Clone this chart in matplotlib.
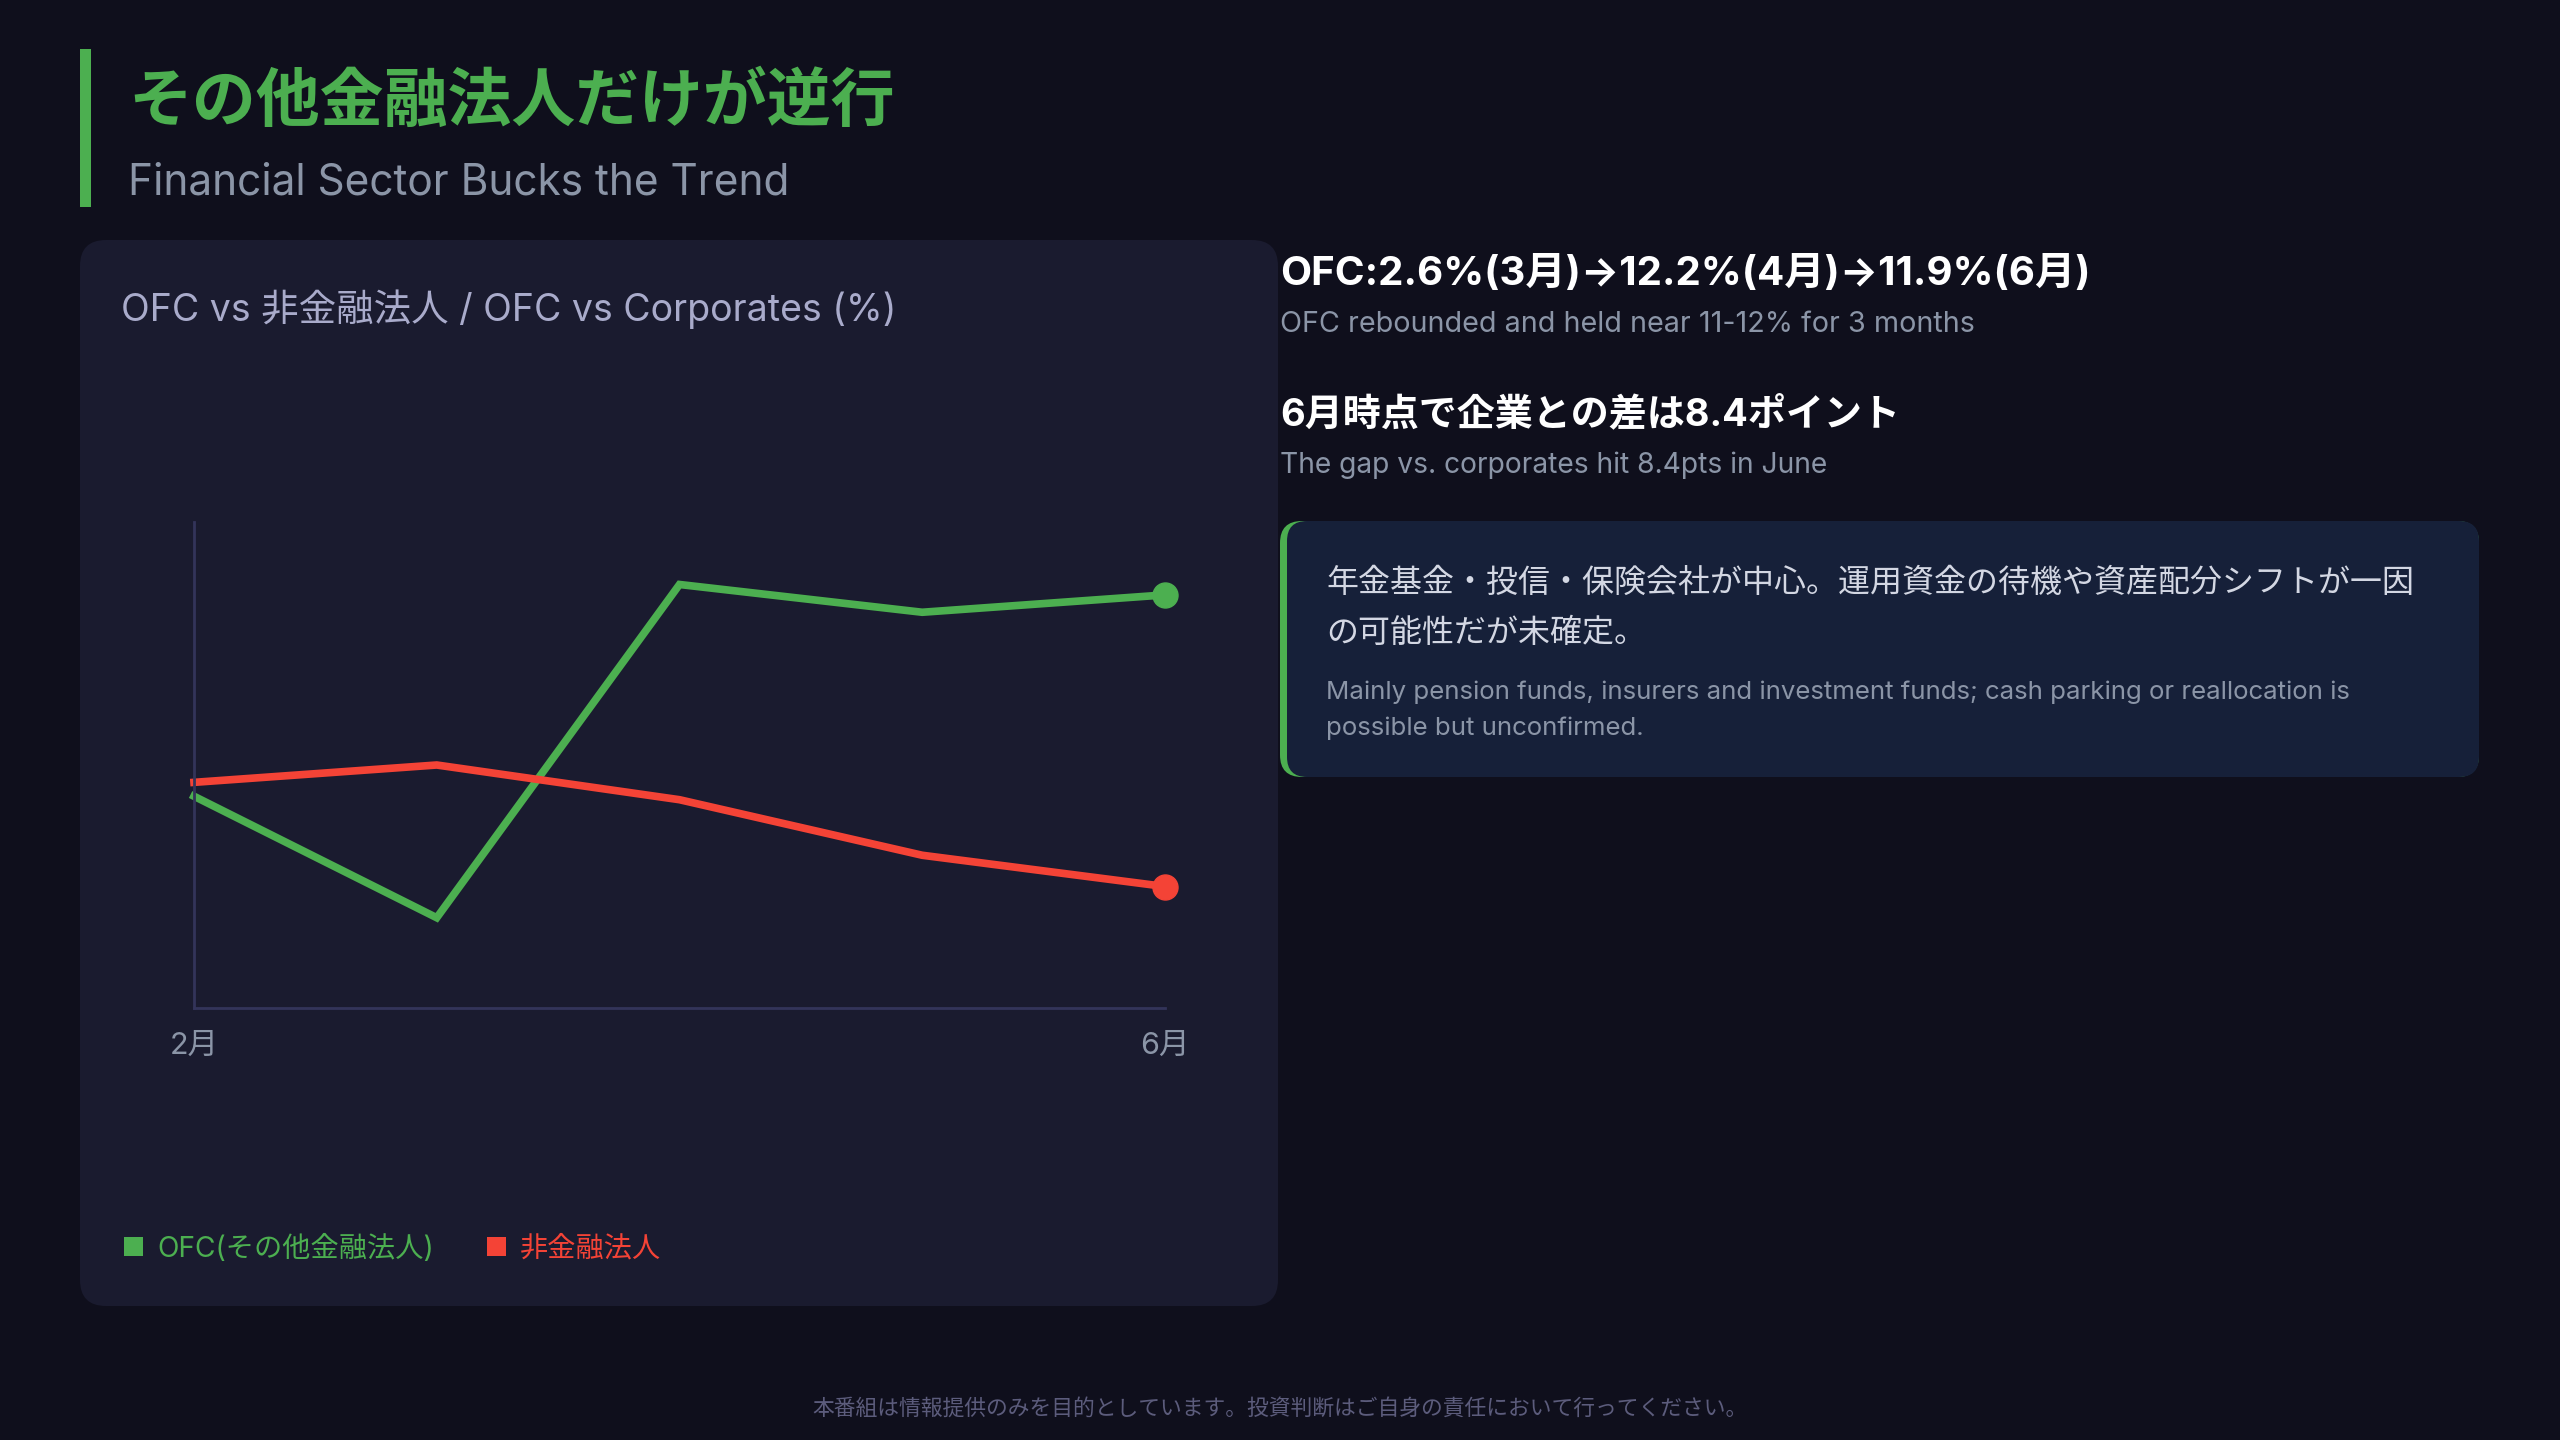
#!/usr/bin/env python3
'''OFC vs non-financial corporates, dark card layout'''
import matplotlib
matplotlib.use('Agg')
import matplotlib.pyplot as plt
from matplotlib.patches import FancyBboxPatch, Rectangle

plt.rcParams['font.family'] = ['Noto Sans CJK JP', 'DejaVu Sans']
MIX = ['Inter', 'Noto Sans CJK JP', 'DejaVu Sans']

W, H = 2560, 1440

months = ['2月', '3月', '4月', '5月', '6月']
ofc = [6.1, 2.6, 12.2, 11.4, 11.9]
corp = [6.5, 7.0, 6.0, 4.4, 3.5]
shown_ticks = ['2月', '6月']

series_names = ['OFC(その他金融法人)', '非金融法人']

title = 'その他金融法人だけが逆行'
subtitle = 'Financial Sector Bucks the Trend'
panel_title = 'OFC vs 非金融法人 / OFC vs Corporates (%)'
point1 = 'OFC:2.6%(3月)→12.2%(4月)→11.9%(6月)'
point1_en = 'OFC rebounded and held near 11-12% for 3 months'
point2 = '6月時点で企業との差は8.4ポイント'
point2_en = 'The gap vs. corporates hit 8.4pts in June'
note_jp = ['年金基金・投信・保険会社が中心。運用資金の待機や資産配分シフトが一因',
           'の可能性だが未確定。']
note_en = ['Mainly pension funds, insurers and investment funds; cash parking or reallocation is',
           'possible but unconfirmed.']
footer = '本番組は情報提供のみを目的としています。投資判断はご自身の責任において行ってください。'

BG = '#0f0f1c'
PANEL = '#1a1b2f'
NOTE = '#162039'
GREEN = '#4caf50'
RED = '#f44336'
GREY = '#8b95a7'


def run():
    fig = plt.figure(figsize=(W / 100, H / 100), dpi=100, facecolor=BG)

    # background layer in pixel coordinates
    bg = fig.add_axes([0, 0, 1, 1])
    bg.set_xlim(0, W)
    bg.set_ylim(H, 0)
    bg.axis('off')

    bg.add_patch(Rectangle((80, 49), 11, 158, color=GREEN, lw=0))
    bg.text(128, 102, title, fontsize=46, fontweight='bold', color=GREEN, va='center')
    bg.text(128, 183, subtitle, fontsize=30.5, color=GREY, va='center', family=MIX)

    # chart card
    bg.add_patch(FancyBboxPatch((80, 240), 1198, 1066,
                                boxstyle='round,pad=0,rounding_size=26',
                                fc=PANEL, ec='none'))
    bg.text(121, 309, panel_title, fontsize=27, color='#a9abcb', va='center', family=MIX)

    # legend
    for x0, name, col in [(124, series_names[0], GREEN), (487, series_names[1], RED)]:
        bg.add_patch(Rectangle((x0, 1237), 19, 19, color=col, lw=0))
        bg.text(x0 + 33, 1249, name, fontsize=20.3, color=col, va='center', family=MIX)

    # right column
    bg.text(1280, 274, point1, fontsize=29, fontweight='bold', color='white', va='center', family=MIX)
    bg.text(1280, 325, point1_en, fontsize=20.7, color=GREY, va='center', family=MIX)
    bg.text(1280, 415, point2, fontsize=27.4, fontweight='bold', color='white', va='center', family=MIX)
    bg.text(1280, 465, point2_en, fontsize=20.3, color=GREY, va='center', family=MIX)

    bg.add_patch(FancyBboxPatch((1280, 521), 1199, 256,
                                boxstyle='round,pad=0,rounding_size=22',
                                fc=GREEN, ec='none'))
    bg.add_patch(FancyBboxPatch((1287, 521), 1192, 256,
                                boxstyle='round,pad=0,rounding_size=20',
                                fc=NOTE, ec='none'))
    for i, line in enumerate(note_jp):
        bg.text(1326, 583 + i * 50, line, fontsize=23, color='#d3d7e3', va='center')
    for i, line in enumerate(note_en):
        bg.text(1326, 692 + i * 36, line, fontsize=18.6, color=GREY, va='center', family=MIX)

    bg.text(W / 2, 1409, footer, fontsize=15.7, color='#5c5c7c', ha='center', va='center')

    # line chart
    ax = fig.add_axes([194 / W, 1 - 1008 / H, (1165 - 194) / W, (1008 - 522) / H])
    ax.set_facecolor('none')
    x = list(range(len(months)))
    for vals, col in [(ofc, GREEN), (corp, RED)]:
        ax.plot(x, vals, color=col, lw=5.5, marker='o', markevery=[len(x) - 1],
                markersize=18, solid_joinstyle='miter', clip_on=False)
    ax.set_xlim(0, len(x) - 1)
    ax.set_ylim(0, 14)
    for s in ['top', 'right']:
        ax.spines[s].set_visible(False)
    for s in ['left', 'bottom']:
        ax.spines[s].set_color('#33345a')
        ax.spines[s].set_linewidth(2)
    ax.set_yticks([])
    ax.set_xticks([months.index(m) for m in shown_ticks])
    ax.set_xticklabels(shown_ticks, fontsize=22, color=GREY, family=MIX)
    ax.tick_params(axis='x', length=0, pad=17)

    fig.savefig('out.png', dpi=100, facecolor=BG)


if __name__ == '__main__':
    run()
